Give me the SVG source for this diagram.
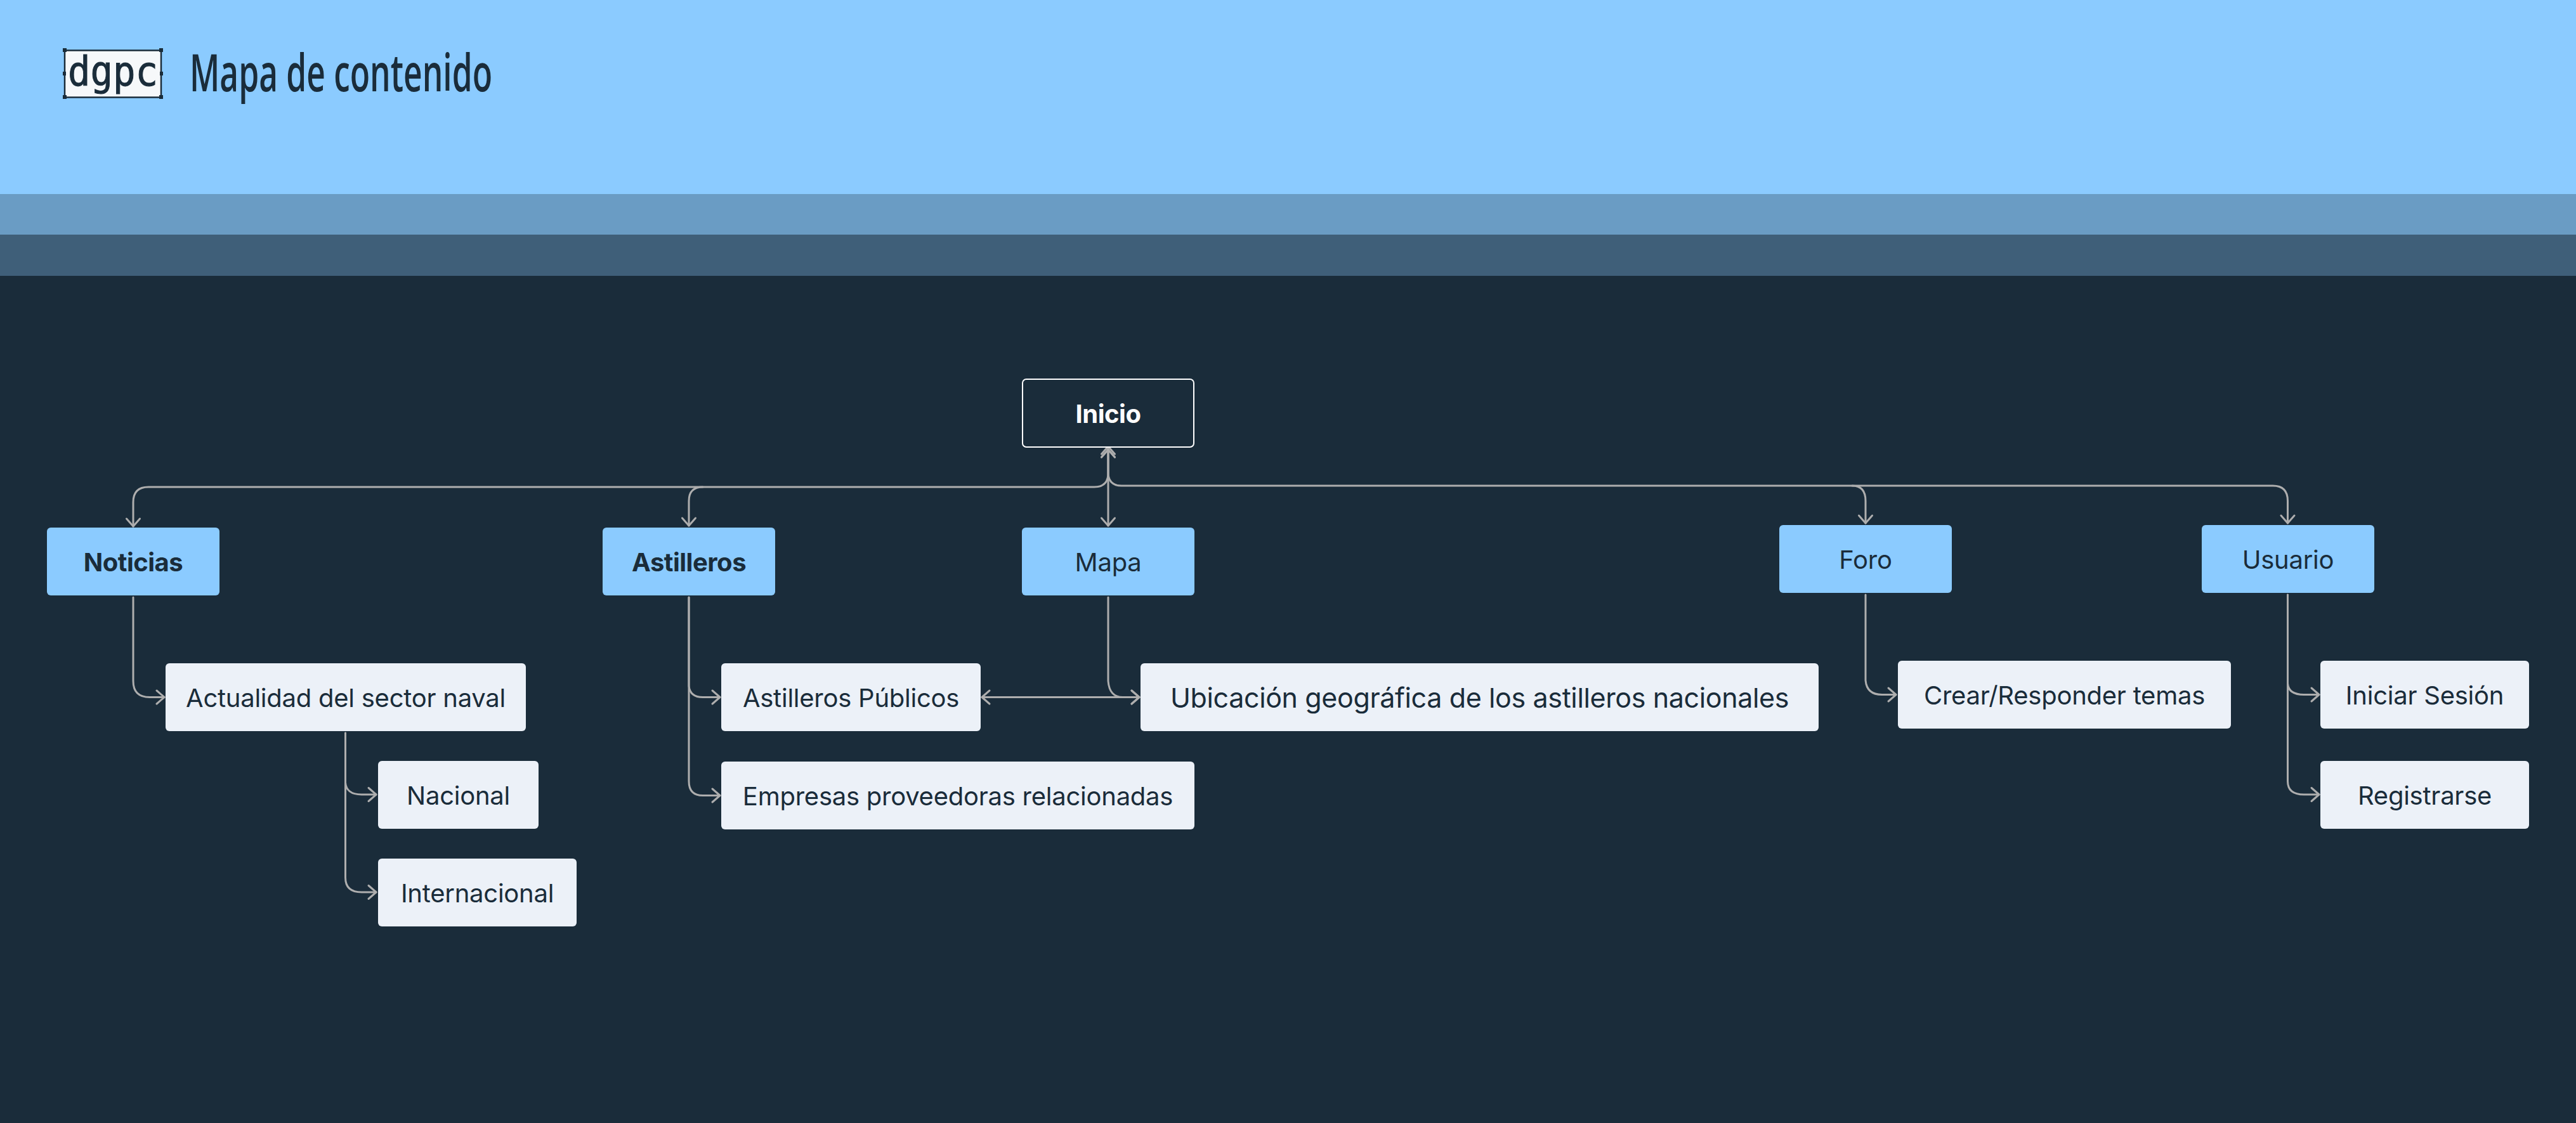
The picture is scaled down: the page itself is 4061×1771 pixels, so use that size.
<svg xmlns="http://www.w3.org/2000/svg" width="4061" height="1771" viewBox="0 0 4061 1771">
<style>
.t{font-family:Inter,"Liberation Sans",sans-serif;font-size:40px;letter-spacing:-.25px;fill:#1a2c3a;text-anchor:middle;dominant-baseline:central}
.b{font-weight:700;letter-spacing:-.5px}
.p{fill:#8bcbff}
.s{fill:#ecf1f8}
.c{fill:none;stroke:#aeaeae;stroke-width:3;stroke-linecap:round;stroke-linejoin:round}
.h{fill:#1a2c3a}
</style>
<defs>
<marker id="a" markerUnits="userSpaceOnUse" markerWidth="30" markerHeight="30" refX="20" refY="12" orient="auto-start-reverse" overflow="visible"><path d="M8 1.500 L20 12 L8 22.500" fill="none" stroke="#aeaeae" stroke-width="3" stroke-linecap="round" stroke-linejoin="round"/></marker>
</defs>
<rect width="4061" height="1771" fill="#1a2c3a"/>
<rect width="4061" height="306" fill="#8bcbff"/>
<rect y="306" width="4061" height="64" fill="#6a9cc4"/>
<rect y="370" width="4061" height="65" fill="#3f5f79"/>
<g id="logo">
<rect x="102" y="79.500" width="152" height="74" fill="#f6f8fa" stroke="#1a2c3a" stroke-width="2.500"/>
<g class="h"><rect x="99" y="76" width="6" height="6"/><rect x="251" y="76" width="6" height="6"/><rect x="99" y="150" width="6" height="6"/><rect x="251" y="150" width="6" height="6"/><rect x="99" y="113" width="5" height="6"/><rect x="252" y="113" width="5" height="6"/></g>
<text x="107" y="135" font-family="'DejaVu Sans Mono',monospace" font-size="64" fill="#1a2c3a" stroke="#1a2c3a" stroke-width="1" textLength="142" lengthAdjust="spacingAndGlyphs">dgpc</text>
</g>
<text id="titulo" x="299" y="144" font-family="'Open Sans',sans-serif" font-size="81" font-weight="600" fill="#1a2c3a" textLength="477" lengthAdjust="spacingAndGlyphs">Mapa de contenido</text>
<g id="connectors" class="c">
<path marker-start="url(#a)" marker-end="url(#a)" d="M1747 704V829"/>
<path marker-start="url(#a)" marker-end="url(#a)" d="M1747 709V748Q1746 768 1725 768H234Q210 768 210 792V830"/>
<path marker-end="url(#a)" d="M1108 768Q1086 768 1086 790V829"/>
<path marker-start="url(#a)" marker-end="url(#a)" d="M1747 709V748Q1749 766 1768 766H3583Q3606.500 766 3606.500 790V825"/>
<path marker-end="url(#a)" d="M2920 766Q2941 766 2941 790V825"/>
<path marker-end="url(#a)" d="M210 942V1074Q210 1099.500 236 1099.500H259"/>
<path marker-end="url(#a)" d="M544.500 1156V1234Q546 1253 570 1253H593"/>
<path marker-end="url(#a)" d="M544.500 1156V1384Q544.500 1407 570 1407H593"/>
<path marker-end="url(#a)" d="M1086 942V1082Q1088 1099.500 1108 1099.500H1135"/>
<path marker-end="url(#a)" d="M1086 942V1232Q1086 1254.500 1108 1254.500H1135"/>
<path marker-end="url(#a)" d="M1747 942V1074Q1749 1099.500 1770 1099.500H1796"/>
<path marker-start="url(#a)" marker-end="url(#a)" d="M1548 1099.500H1796"/>
<path marker-end="url(#a)" d="M2941 938V1073Q2943 1095.500 2967 1095.500H2989"/>
<path marker-end="url(#a)" d="M3606.500 938V1078Q3608 1095.500 3632 1095.500H3656"/>
<path marker-end="url(#a)" d="M3606.500 938V1232Q3606.500 1253 3632 1253H3656"/>
</g>
<g id="n-inicio"><rect x="1612" y="598" width="270" height="107" rx="6" fill="#1a2c3a" stroke="#fff" stroke-width="2"/><text class="t b" x="1747" y="652" style="fill:#fff">Inicio</text></g>
<g id="n-noticias"><rect class="p" x="74" y="832" width="272" height="107" rx="6"/><text class="t b" x="210" y="886">Noticias</text></g>
<g id="n-astilleros"><rect class="p" x="950" y="832" width="272" height="107" rx="6"/><text class="t b" x="1086" y="886">Astilleros</text></g>
<g id="n-mapa"><rect class="p" x="1611" y="832" width="272" height="107" rx="6"/><text class="t" x="1747" y="886">Mapa</text></g>
<g id="n-foro"><rect class="p" x="2805" y="828" width="272" height="107" rx="6"/><text class="t" x="2941" y="882">Foro</text></g>
<g id="n-usuario"><rect class="p" x="3471" y="828" width="272" height="107" rx="6"/><text class="t" x="3607" y="882">Usuario</text></g>
<g id="n-actualidad"><rect class="s" x="261" y="1046" width="568" height="107" rx="6"/><text class="t" x="545" y="1100">Actualidad del sector naval</text></g>
<g id="n-nacional"><rect class="s" x="596" y="1200" width="253" height="107" rx="6"/><text class="t" x="722.500" y="1254">Nacional</text></g>
<g id="n-internacional"><rect class="s" x="596" y="1354" width="313" height="107" rx="6"/><text class="t" x="752.500" y="1408">Internacional</text></g>
<g id="n-publicos"><rect class="s" x="1137" y="1046" width="409" height="107" rx="6"/><text class="t" x="1341.500" y="1100">Astilleros Públicos</text></g>
<g id="n-empresas"><rect class="s" x="1137" y="1201" width="746" height="107" rx="6"/><text class="t" x="1510" y="1255">Empresas proveedoras relacionadas</text></g>
<g id="n-ubicacion"><rect class="s" x="1798" y="1046" width="1069" height="107" rx="6"/><text class="t" x="2332.500" y="1100" style="font-size:43px;letter-spacing:-.375px">Ubicación geográfica de los astilleros nacionales</text></g>
<g id="n-crear"><rect class="s" x="2992" y="1042" width="525" height="107" rx="6"/><text class="t" x="3254.500" y="1096">Crear/Responder temas</text></g>
<g id="n-iniciar"><rect class="s" x="3658" y="1042" width="329" height="107" rx="6"/><text class="t" x="3822.500" y="1096">Iniciar Sesión</text></g>
<g id="n-registrarse"><rect class="s" x="3658" y="1200" width="329" height="107" rx="6"/><text class="t" x="3822.500" y="1254">Registrarse</text></g>
</svg>
